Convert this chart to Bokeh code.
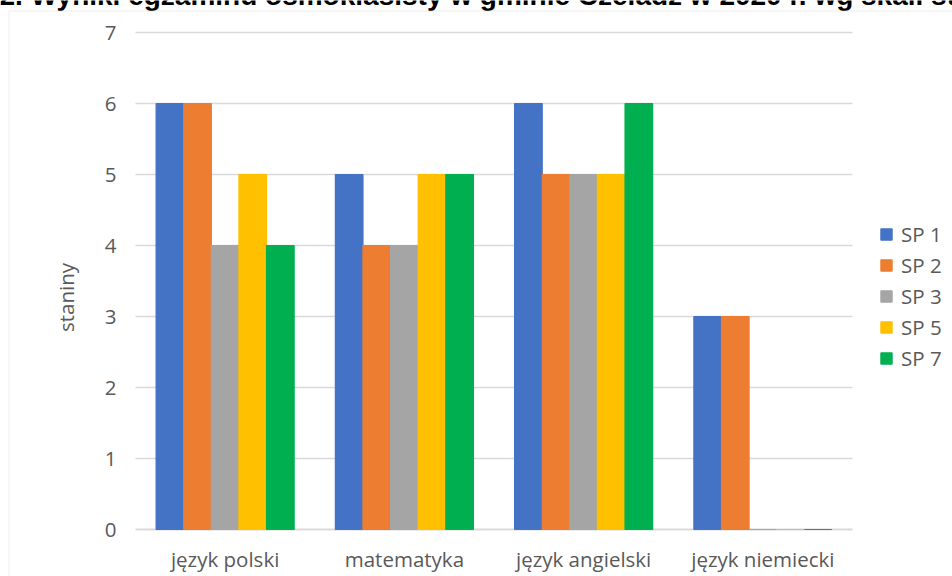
import math
from bokeh.plotting import figure
from bokeh.models import Range1d, Legend, LegendItem, Label, BoxAnnotation, ColumnDataSource
from bokeh.transform import dodge
from bokeh.core.properties import value
from bokeh.embed import file_html
from bokeh.resources import INLINE

# ---- data ----
categories = ["język polski", "matematyka", "język angielski", "język niemiecki"]
series_names = ["SP 1", "SP 2", "SP 3", "SP 5", "SP 7"]
sp1 = [6, 5, 6, 3]
sp2 = [6, 4, 5, 3]
sp3 = [4, 4, 5, 0]
sp5 = [5, 5, 5, 0]
sp7 = [4, 5, 6, 0]
y_ticks = [0, 1, 2, 3, 4, 5, 6, 7]
y_label = "staniny"
title_text = "2. Wyniki egzaminu ósmoklasisty w gminie Czeladź w 2020 r. wg skali staninowej"

# ---- style ----
colors = ["#4472C4", "#ED7D31", "#A5A5A5", "#FFC000", "#00B050"]
FONT = "Open Sans"
FS = "20.5px"
TXT = "#595959"
GRID = "#D9D9D9"

W, H = 952, 576
FL, FR, FT, FB = 135, 852, 32, 529      # plot area edges in pixels
n = len(categories)
ymax = y_ticks[-1]
cat_w = (FR - FL) / n
unit = (FB - FT) / ymax
x_range = Range1d(-FL / cat_w, n + (W - FR) / cat_w)
y_range = Range1d(-(H - FB) / unit, ymax + FT / unit)

xc = [i + 0.5 for i in range(n)]
src = ColumnDataSource(dict(xc=xc, cat=categories, s1=sp1, s2=sp2, s3=sp3, s5=sp5, s7=sp7))
cols = ["s1", "s2", "s3", "s5", "s7"]

p = figure(width=W, height=H, x_range=x_range, y_range=y_range,
           x_axis_type=None, y_axis_type=None, title=None,
           output_backend="svg", toolbar_location=None, min_border=0)
p.outline_line_color = None
p.background_fill_color = "white"
p.border_fill_color = "white"

# gridlines and baseline
p.segment(x0=[0] * (len(y_ticks) - 1), x1=[n] * (len(y_ticks) - 1),
          y0=y_ticks[1:], y1=y_ticks[1:], line_color=GRID, line_width=1.3)
p.segment(x0=[0], x1=[n], y0=y_ticks[:1], y1=y_ticks[:1], line_color=GRID, line_width=2)

# bars
bw = 0.154
items = []
for i, (c, name, col) in enumerate(zip(cols, series_names, colors)):
    off = (i - 2) * bw
    r = p.vbar(x=dodge("xc", off), top=c, bottom=0, width=bw, source=src,
               fill_color=col, line_color=col, line_width=1.2)
    items.append(LegendItem(label=name, renderers=[r]))

# y tick labels
p.text(x=[0] * len(y_ticks), y=y_ticks, text=[str(t) for t in y_ticks],
       x_offset=-19, y_offset=0, text_align="right", text_baseline="alphabetic",
       text_font=value(FONT), text_font_size=value(FS), text_color=TXT)

# category labels
p.text(x="xc", y=0, text="cat", source=src, y_offset=29,
       text_align="center", text_baseline="alphabetic",
       text_font=value(FONT), text_font_size=value(FS), text_color=TXT)

legend = Legend(items=items, location=(879, 204), orientation="vertical",
                glyph_width=14, glyph_height=14, label_standoff=8,
                label_text_font=FONT, label_text_font_size=FS,
                label_text_color=TXT, label_height=29, spacing=2,
                padding=0, margin=0, border_line_color=None,
                background_fill_alpha=0)
p.add_layout(legend, "center")

p.add_layout(Label(x=65.5, y=H - 297, x_units="screen", y_units="screen",
                   text=y_label, angle=math.pi / 2, text_align="center",
                   text_baseline="middle", text_font=FONT,
                   text_font_size=FS, text_color=TXT))

p.add_layout(Label(x=-1, y=H + 5, x_units="screen", y_units="screen",
                   text=title_text, text_align="left", text_baseline="alphabetic",
                   text_font="Liberation Sans", text_font_style="bold",
                   text_font_size="28px", text_color="black"))

p.add_layout(BoxAnnotation(left=8.5, right=W + 20, bottom=-20, top=H - 10.5,
                           left_units="screen", right_units="screen",
                           top_units="screen", bottom_units="screen",
                           fill_alpha=0, line_color=GRID, line_width=1.5))

open("out.html", "w").write(file_html(p, INLINE))
